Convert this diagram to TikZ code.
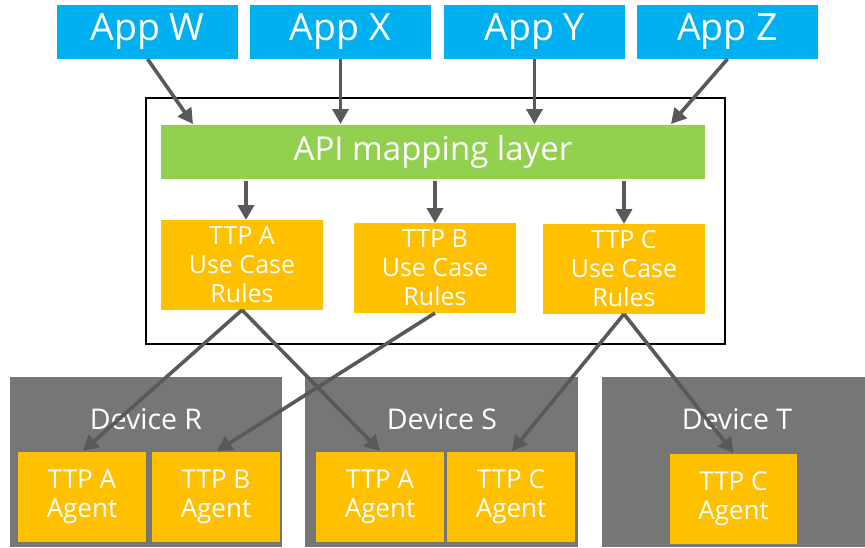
\documentclass[tikz,border=0pt]{standalone}
\usepackage{fontspec}
\setmainfont{Open Sans}
\usetikzlibrary{arrows.meta,calc}
\definecolor{appblue}{RGB}{0,176,240}
\definecolor{mapgreen}{RGB}{146,208,80}
\definecolor{ttporange}{RGB}{255,192,0}
\definecolor{devgray}{RGB}{118,118,118}
\definecolor{linkgray}{RGB}{89,89,91}
\begin{document}
\begin{tikzpicture}[x=1pt,y=-1pt,
  box/.style={anchor=north west, inner sep=0pt, outer sep=0pt, text=white, align=center},
  app/.style={box, fill=appblue, minimum width=181pt, minimum height=54pt,
    font=\fontsize{37.5}{40}\selectfont},
  mapbar/.style={box, fill=mapgreen, minimum width=544pt, minimum height=54pt,
    font=\fontsize{33}{38}\selectfont},
  rules/.style={box, fill=ttporange, minimum width=162pt, minimum height=90pt,
    font=\fontsize{25}{29}\selectfont},
  device/.style={box, fill=devgray, minimum height=170pt},
  devlabel/.style={anchor=base, inner sep=0pt, text=white, font=\fontsize{28.5}{32}\selectfont},
  agent/.style={box, fill=ttporange, minimum width=128pt, minimum height=90pt,
    font=\fontsize{26}{29}\selectfont},
  frame/.style={box, draw=black, line width=1.6pt, minimum width=579pt, minimum height=246pt},
  link/.style={draw=linkgray, line width=3.6pt,
    -{Triangle[length=15pt,width=16pt]}, shorten <=0pt},
]
\useasboundingbox (0,0) rectangle (865,547);

% applications
\node[app] (appW) at (57,5)  {App W};
\node[app] (appX) at (250,5) {App X};
\node[app] (appY) at (444,5) {App Y};
\node[app] (appZ) at (637,5) {App Z};

% mapping layer with its use case rules
\node[frame] (layer) at (146,98) {};
\node[mapbar] (api) at (161,125) {API mapping layer};
\node[rules] (ruleA) at (161,220) {TTP A\\Use Case\\Rules};
\node[rules] (ruleB) at (354,223) {TTP B\\Use Case\\Rules};
\node[rules] (ruleC) at (543,224) {TTP C\\Use Case\\Rules};

% devices and their agents
\node[device, minimum width=272pt] (devR) at (10,377)  {};
\node[device, minimum width=273pt] (devS) at (305,377) {};
\node[device, minimum width=263pt] (devT) at (602,377) {};
\node[devlabel] (lblR) at (146,429) {Device R};
\node[devlabel] (lblS) at (442,429) {Device S};
\node[devlabel] (lblT) at (737,429) {Device T};
\node[agent] (agRA) at (18,452)  {TTP A\\Agent};
\node[agent] (agRB) at (152,452) {TTP B\\Agent};
\node[agent] (agSA) at (316,452) {TTP A\\Agent};
\node[agent] (agSC) at (447,452) {TTP C\\Agent};
\node[agent, minimum width=127pt] (agTC) at (670,454) {TTP C\\Agent};

% applications into the mapping layer
\coordinate (inW) at ($(api.north west)+(32,-1)$);
\coordinate (inZ) at ($(api.north east)+(-34,-1)$);
\path[link] (appW.south) -- (inW);
\path[link] (appX.south) -- ($(appX.south |- api.north)+(0,-1)$);
\path[link] (appY.south) -- ($(appY.south |- api.north)+(0,-1)$);
\path[link] (appZ.south) -- (inZ);

% mapping layer down to the rules
\path[link] ($(ruleA.north |- api.south)+(4,2)$) -- ($(ruleA.north)+(4,0)$);
\path[link] ($(ruleB.north |- api.south)+(0,2)$) -- (ruleB.north);
\path[link] ($(ruleC.north |- api.south)+(0,2)$) -- (ruleC.north);

% rules out to the device agents
\path[link] (ruleA.south) -- ($(agRA.north)+(1,-1)$);
\path[link] (ruleA.south) -- ($(agSA.north)+(0,-1)$);
\path[link] (ruleB.south) -- ($(agRB.north)+(1,-1)$);
\path[link] (ruleC.south) -- ($(agSC.north)+(1,-1)$);
\path[link] (ruleC.south) -- ($(agTC.north)+(0,-1)$);
\end{tikzpicture}
\end{document}
